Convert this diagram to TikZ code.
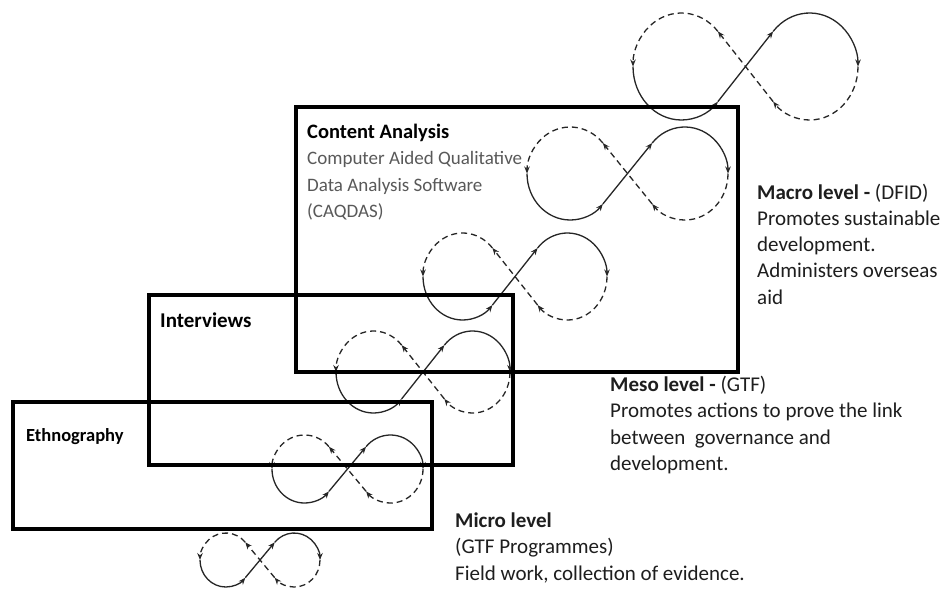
\documentclass[tikz,border=0pt]{standalone}
\usepackage{fontspec}
\setmainfont{Carlito}
\usetikzlibrary{arrows.meta}
\definecolor{subgray}{HTML}{595959}
\definecolor{txt}{HTML}{1E1E1E}
\tikzset{
  loopline/.style={line width=1.3pt, draw=black!85},
  lp/.style={loopline, -{Stealth[length=7pt,width=5.5pt]}},
  ld/.style={lp, dash pattern=on 6pt off 4pt},
  frame/.style={draw=black, line width=4pt},
  head/.style={anchor=base west, inner sep=0pt, font=\fontsize{20.5}{24}\selectfont\bfseries, text=black},
  sub/.style={anchor=base west, inner sep=0pt, font=\fontsize{19}{23}\selectfont, text=subgray},
  lvl/.style={anchor=base west, inner sep=0pt, font=\fontsize{21}{25}\selectfont, text=txt},
  pics/infloop/.style={code={
    \draw[lp] (-1,0) arc[start angle=180,end angle=319,x radius=0.43,y radius=1];
    \draw[lp] (-0.2455,-0.656) -- (0.2455,0.656);
    \draw[lp] (0.2455,0.656) arc[start angle=139,end angle=0,x radius=0.43,y radius=1];
    \draw[ld] (1,0) arc[start angle=0,end angle=-139,x radius=0.43,y radius=1];
    \draw[ld] (0.2455,-0.656) -- (-0.2455,0.656);
    \draw[ld] (-0.2455,0.656) arc[start angle=41,end angle=180,x radius=0.43,y radius=1];
  }}
}
\begin{document}
\begin{tikzpicture}[x=1pt,y=1pt]
\fill[white] (0,0) rectangle (947,-590);
\useasboundingbox (0,0) rectangle (947,-590);
% infinity loops
\pic[xscale=112.5,yscale=53.5] at (745.5,-66.5) {infloop};
\pic[xscale=100.5,yscale=46.5] at (627.5,-173.5) {infloop};
\pic[xscale=92,yscale=43.5] at (515,-276.5) {infloop};
\pic[xscale=87,yscale=41] at (423,-372) {infloop};
\pic[xscale=75.5,yscale=34] at (347.5,-469) {infloop};
\pic[xscale=60,yscale=27] at (260,-560) {infloop};
% boxes
\draw[frame] (296,-107) rectangle (738,-372);
\draw[frame] (149,-295) rectangle (513,-465);
\draw[frame] (13,-402) rectangle (432,-529);
% box texts
\node[head] (ca1) at (307,-138) {Content Analysis};
\node[sub] (ca2) at (307,-164.5) {Computer Aided Qualitative};
\node[sub] (ca3) at (307,-191) {Data Analysis Software};
\node[sub] (ca4) at (307,-217.5) {(CAQDAS)};
\node[head, font=\fontsize{21}{25}\selectfont\bfseries] (iv) at (160,-327) {Interviews};
\node[head, font=\fontsize{18.5}{22}\selectfont\bfseries] (eth) at (26,-441) {Ethnography};
% level texts
\node[lvl] (ma1) at (757,-199) {\textbf{Macro level -} (DFID)};
\node[lvl] (ma2) at (757,-225.3) {Promotes sustainable};
\node[lvl] (ma3) at (757,-251.6) {development.};
\node[lvl] (ma4) at (757,-277.9) {Administers overseas};
\node[lvl] (ma5) at (757,-304.2) {aid};
\node[lvl] (me1) at (610,-391) {\textbf{Meso level -} (GTF)};
\node[lvl] (me2) at (610,-417.5) {Promotes actions to prove the link};
\node[lvl] (me3) at (610,-444) {between\ \ governance and};
\node[lvl] (me4) at (610,-470.5) {development.};
\node[lvl] (mi1) at (455,-527) {\textbf{Micro level}};
\node[lvl] (mi2) at (455,-553.5) {(GTF Programmes)};
\node[lvl] (mi3) at (455,-580) {Field work, collection of evidence.};
\end{tikzpicture}
\end{document}
